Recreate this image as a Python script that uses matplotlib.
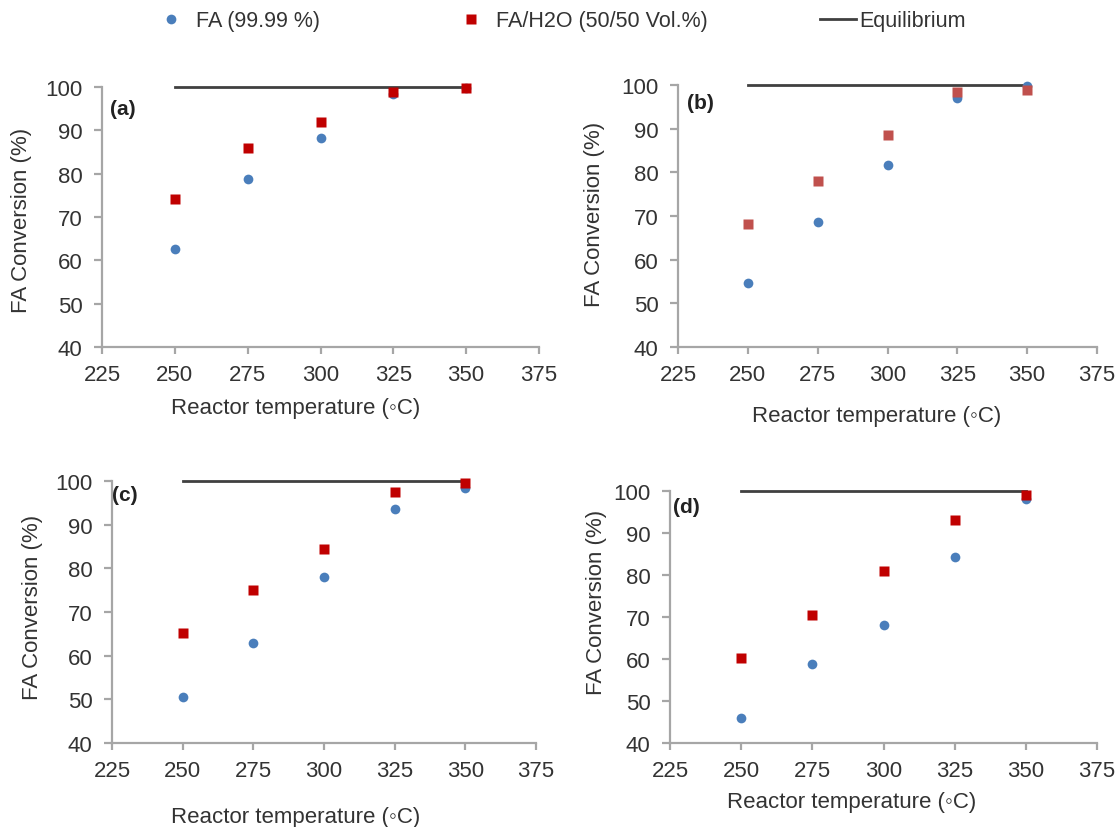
import matplotlib
matplotlib.use("Agg")
import matplotlib.pyplot as plt

plt.rcParams['font.family'] = ['Liberation Sans', 'DejaVu Sans']

# reactor temperatures (°C)
temps = [250, 275, 300, 325, 350]

# FA conversion (%) for the four panels
fa_a = [62.7, 78.8, 88.3, 98.4, 99.8]
mix_a = [74.1, 85.9, 92.0, 98.8, 99.8]
fa_b = [54.6, 68.7, 81.7, 97.0, 99.7]
mix_b = [68.1, 78.0, 88.6, 98.5, 98.8]
fa_c = [50.6, 63.0, 78.1, 93.7, 98.4]
mix_c = [65.1, 75.1, 84.5, 97.5, 99.5]
fa_d = [45.9, 58.9, 68.0, 84.3, 98.0]
mix_d = [60.2, 70.4, 81.0, 93.0, 99.0]

# equilibrium conversion
eq_t = [250, 350]
eq_val = [100, 100]

panel_tags = ['(a)', '(b)', '(c)', '(d)']
xticks = [225, 250, 275, 300, 325, 350, 375]
yticks = [40, 50, 60, 70, 80, 90, 100]

W, H = 1118, 828
# panel boxes in pixels: left, right, top, bottom
boxes = [(102, 539, 88, 348), (678, 1097, 86, 348),
         (112, 536, 482, 744), (670, 1097, 492, 744)]
xlab_pos = [(0.442, -0.231), (0.475, -0.263), (0.432, -0.279), (0.426, -0.234)]
ylab_pos = [(-0.185, 0.492), (-0.200, 0.508), (-0.188, 0.523), (-0.173, 0.563)]
tag_pos = [(0.018, 0.919), (0.021, 0.935), (0.0, 0.950), (0.007, 0.937)]
red_cols = ['#c00000', '#c0504d', '#c00000', '#c00000']

blue = '#4a7ebb'
grey = '#a6a6a6'
txt = '#333333'

fig = plt.figure(figsize=(W / 100, H / 100), dpi=100)

series = [(fa_a, mix_a), (fa_b, mix_b), (fa_c, mix_c), (fa_d, mix_d)]
handles = []
for i, (fa, mix) in enumerate(series):
    l, r, t, b = boxes[i]
    ax = fig.add_axes([l / W, 1 - b / H, (r - l) / W, (b - t) / H])

    eq, = ax.plot(eq_t, eq_val, color='#404040', lw=2, clip_on=False,
                  zorder=2, label='Equilibrium')
    p1, = ax.plot(temps, fa, 'o', color=blue, ms=7, mec='none',
                  clip_on=False, zorder=3, label='FA (99.99 %)')
    p2, = ax.plot(temps, mix, 's', color=red_cols[i], ms=7.2, mec='none',
                  clip_on=False, zorder=4, label='FA/H2O (50/50 Vol.%)')
    if i == 0:
        handles = [p1, p2, eq]

    ax.set_xlim(225, 375)
    ax.set_ylim(40, 100)
    ax.set_xticks(xticks)
    ax.set_yticks(yticks)
    for s in ['top', 'right']:
        ax.spines[s].set_visible(False)
    for s in ['left', 'bottom']:
        ax.spines[s].set_color(grey)
        ax.spines[s].set_linewidth(1.6)
    ax.tick_params(axis='both', colors=grey, width=1.6, labelcolor=txt,
                   labelsize=16)
    ax.tick_params(axis='x', length=5, pad=7)
    ax.tick_params(axis='y', length=6, pad=8)

    ax.set_xlabel('Reactor temperature (\u25e6C)', fontsize=16, color=txt)
    ax.xaxis.set_label_coords(*xlab_pos[i])
    ax.xaxis.label.set_va('center')
    ax.set_ylabel('FA Conversion (%)', fontsize=16, color=txt)
    ax.yaxis.set_label_coords(*ylab_pos[i])
    ax.yaxis.label.set_va('center')

    ax.text(tag_pos[i][0], tag_pos[i][1], panel_tags[i], transform=ax.transAxes,
            fontsize=15, fontweight='bold', color='#222222',
            ha='left', va='center')

# legend entries spread across the top
leg_y = 1 - 22 / H
common = dict(loc='center left', frameon=False, borderpad=0,
              borderaxespad=0, fontsize=15.5, labelcolor=txt)
fig.legend(handles=[handles[0]], bbox_to_anchor=(162 / W, leg_y),
           handlelength=0.8, handletextpad=0.8, **common)
fig.legend(handles=[handles[1]], bbox_to_anchor=(462 / W, leg_y),
           handlelength=0.8, handletextpad=0.8, **common)
fig.legend(handles=[handles[2]], bbox_to_anchor=(820 / W, leg_y),
           handlelength=1.67, handletextpad=0.15, **common)

fig.savefig('out.png', dpi=100)
